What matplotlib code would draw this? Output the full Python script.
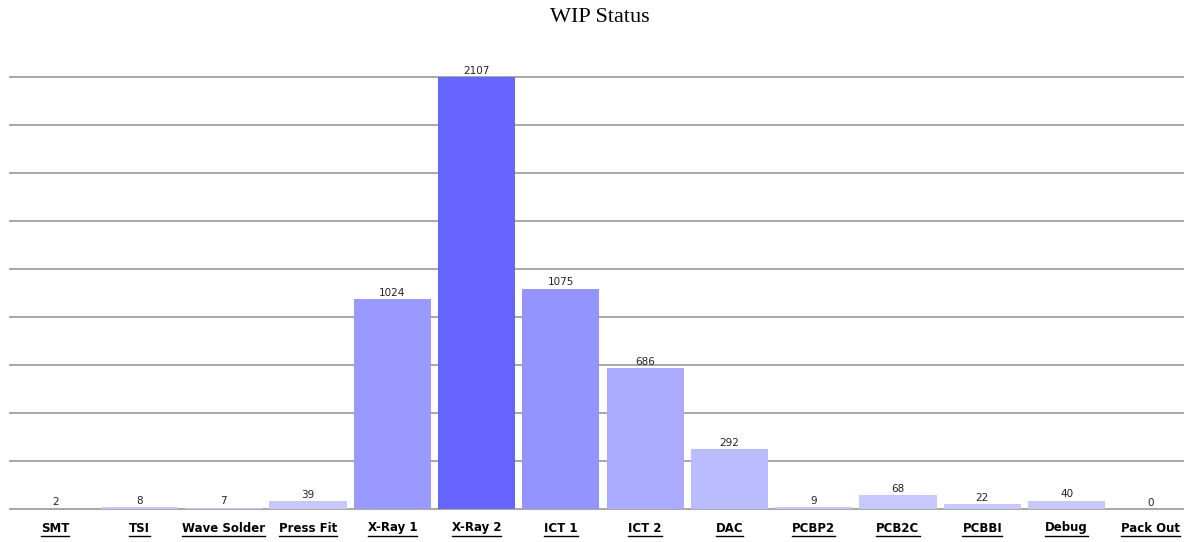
import numpy as np
import matplotlib.pyplot as plt
from matplotlib.lines import Line2D

# WIP counts per station
stations = ["SMT", "TSI", "Wave Solder", "Press Fit", "X-Ray 1", "X-Ray 2", "ICT 1",
            "ICT 2", "DAC", "PCBP2", "PCB2C", "PCBBI", "Debug", "Pack Out"]
wip = [2, 8, 7, 39, 1024, 2107, 1075, 686, 292, 9, 68, 22, 40, 0]
bar_colors = ["#c8c8ff", "#c8c8ff", "#c8c8ff", "#c8c8ff", "#9999ff", "#6666ff", "#9494ff",
              "#aaaaff", "#bbbbff", "#c8c8ff", "#c8c8ff", "#c8c8ff", "#c8c8ff", "#c8c8ff"]

fig = plt.figure(figsize=(11.84, 5.42), dpi=100)
# plot area runs a little past the right edge, as in the screenshot
ax = fig.add_axes([13 / 1184, 1 - 509 / 542, 1180 / 1184, 432 / 542])

x = np.arange(len(stations))
ymax = max(wip)
ax.set_xlim(-0.5, len(stations) - 0.5)
ax.set_ylim(0, ymax)

# gridlines (9 equal steps up to the max bar), starting at the left edge
for g in np.linspace(0, ymax, 10):
    fy = (1 - 509 / 542) + g / ymax * 432 / 542
    fig.add_artist(Line2D([10 / 1184, 1], [fy, fy], color="#a0a0a0", lw=1.3, zorder=0))

ax.bar(x, wip, width=0.915, color=bar_colors, zorder=2)

for xi, v in zip(x, wip):
    ax.annotate(str(v), (xi, v), xytext=(0, 1), textcoords="offset points",
                ha="center", va="bottom", fontsize=7.5, color="#222222")

ax.set_xticks(x)
ax.set_xticklabels(stations, fontsize=8.5, fontweight="bold", family="DejaVu Sans")
ax.tick_params(axis="x", length=0, pad=9)
ax.set_yticks([])
ax.patch.set_visible(False)
for s in ax.spines.values():
    s.set_visible(False)

fig.text(0.507, 1 - 17 / 542, "WIP Status", ha="center", va="center",
         fontsize=16, family="Liberation Serif")

# underline the station labels
fig.canvas.draw()
r = fig.canvas.get_renderer()
for lbl in ax.get_xticklabels():
    bb = lbl.get_window_extent(renderer=r)
    y = (bb.y0 - 1) / fig.bbox.height
    fig.add_artist(Line2D([bb.x0 / fig.bbox.width, bb.x1 / fig.bbox.width], [y, y],
                          color="black", lw=1))

fig.savefig("out.png", dpi=100)
